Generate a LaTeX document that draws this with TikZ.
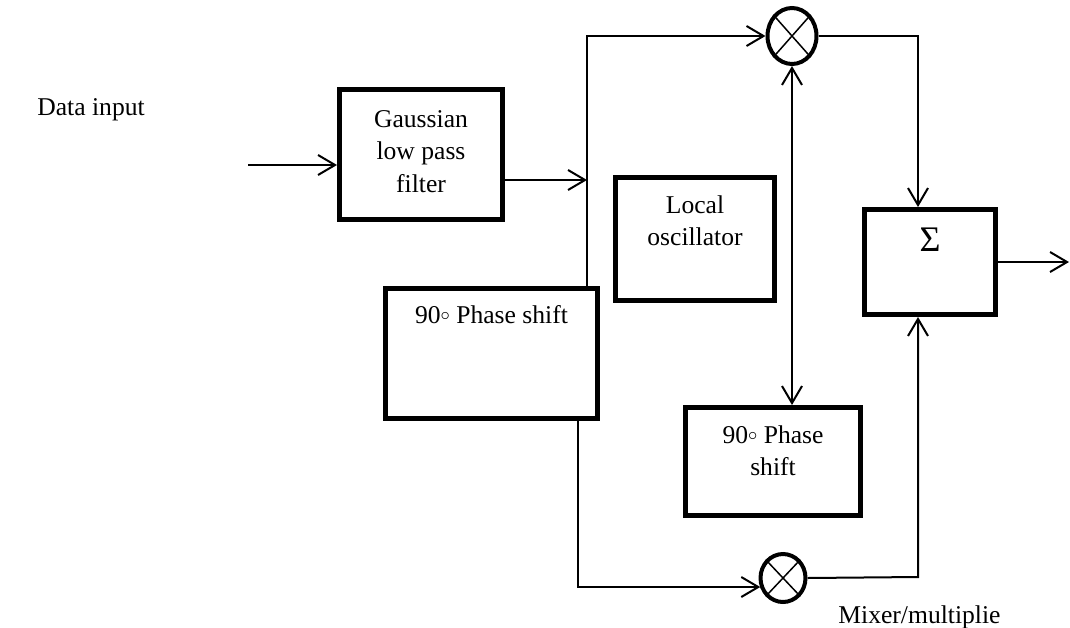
\documentclass[tikz,border=0pt]{standalone}
\usepackage{fontspec}
\setmainfont{Liberation Serif}
\usetikzlibrary{arrows.meta,shapes.geometric,calc}
\newcommand{\degsym}{\raisebox{1.3pt}{\fontsize{9.5pt}{9.5pt}\selectfont$\circ$}}
\tikzset{
  blk/.style={draw, line width=2.5pt, inner sep=0pt, rectangle},
  mix/.style={draw, line width=2pt, ellipse, inner sep=0pt},
  conn/.style={line width=1pt},
  arr/.style={conn, -{Straight Barb[length=8.5pt,width=10pt]}},
  darr/.style={conn, {Straight Barb[length=8.5pt,width=10pt]}-{Straight Barb[length=8.5pt,width=10pt]}},
  txt/.style={inner sep=0pt, font=\fontsize{12.8pt}{16.25pt}\selectfont, align=center}
}
\begin{document}
\begin{tikzpicture}[x=0.5pt,y=-0.5pt]
\useasboundingbox (0,0) rectangle (1070,627);
% blocks
\node[blk, minimum width=81.5pt, minimum height=65pt] (gauss) at (421,154.5) {};
\node[blk, minimum width=79.5pt, minimum height=61.5pt] (osc) at (695,239) {};
\node[blk, minimum width=106pt, minimum height=65pt] (ps1) at (491.5,353.5) {};
\node[blk, minimum width=87.5pt, minimum height=54pt] (ps2) at (773,461.5) {};
\node[blk, minimum width=65.5pt, minimum height=52.5pt] (sum) at (930,262) {};
% mixers
\node[mix, minimum width=24.5pt, minimum height=28pt] (mtop) at (792,36) {};
\node[mix, minimum width=22.5pt, minimum height=24pt] (mbot) at (783,578) {};
\draw[line width=0.75pt] (mtop.north west) -- (mtop.south east) (mtop.north east) -- (mtop.south west);
\draw[line width=0.75pt] (mbot.north west) -- (mbot.south east) (mbot.north east) -- (mbot.south west);
% texts
\node[txt, anchor=base west] (tdata) at (37,115) {Data input};
\node[txt, anchor=north] (tgauss) at (421,110) {Gaussian\\low pass\\filter};
\node[txt, anchor=north] (tosc) at (695,195) {Local\\oscillator};
\node[txt, anchor=base] (tps1) at (491.5,323) {90\degsym\ Phase shift};
\node[txt, anchor=north] (tps2) at (773,425) {90\degsym\ Phase\\shift};
\node[txt, font=\fontsize{18pt}{18pt}\selectfont] (tsum) at (930,240) {Σ};
\node[txt, anchor=base west] (tmix) at (838,623) {Mixer/multiplie};
% connectors
\coordinate (in) at (248,165);
\coordinate (j1) at (587,180);
\coordinate (c1) at (918,36);
\coordinate (b1) at (578,587);
\coordinate (c2) at (918,577);
\coordinate (out) at (1069,262);
\draw[arr] (in) -- (in -| gauss.west);
\draw[arr] (gauss.east |- j1) -- (j1);
\draw[arr] (ps1.north -| j1) |- (mtop.west);
\draw[arr] (mtop.east) -- (c1) -- (c1 |- sum.north);
\draw[darr] (mtop.south) -- (mtop.south |- ps2.north);
\draw[arr] (ps1.south -| b1) -- (b1) -- (b1 -| mbot.203);
\draw[arr] (mbot.east) -- (c2) -- (c2 |- sum.south);
\draw[arr] (sum.east) -- (out);
\end{tikzpicture}
\end{document}
